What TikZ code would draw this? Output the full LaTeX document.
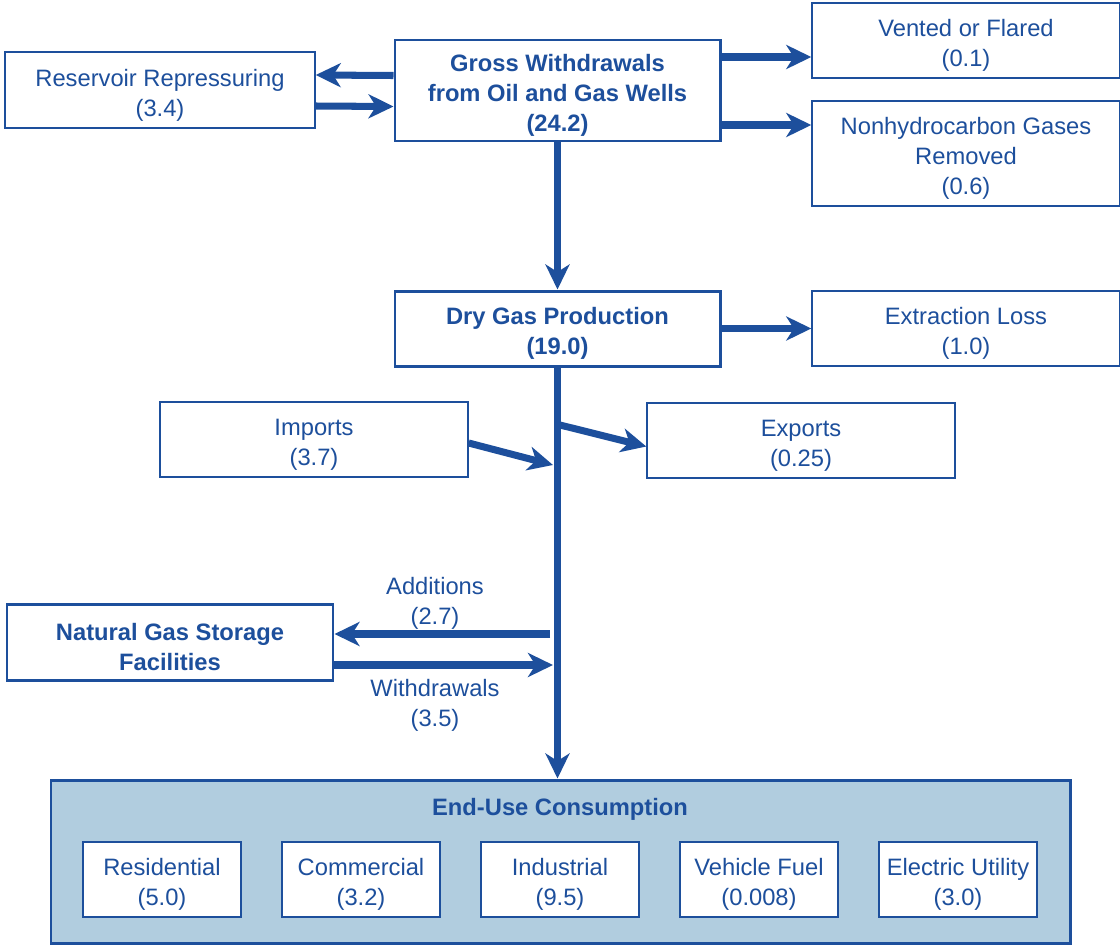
\documentclass[tikz,border=0pt]{standalone}
\usepackage{fontspec}
\setmainfont{Liberation Sans}
\usepackage{tikz}
\usetikzlibrary{arrows.meta,calc,positioning}
\definecolor{eiablue}{HTML}{1D4F9C}
\definecolor{eiafill}{HTML}{B1CDDF}
\newcommand{\boxtop}{\rule{0pt}{15.5pt}}
\tikzset{
  box/.style={draw=eiablue,line width=0.8pt,fill=white,text=eiablue,align=center,
    minimum width=6.16cm,minimum height=1.5cm,inner sep=0pt,font=\fontsize{13.5}{17}\selectfont},
  bigbox/.style={box,line width=1.7pt,font=\fontsize{13.5}{17}\selectfont\bfseries},
  usebox/.style={box,minimum width=3.16cm},
  flow/.style={draw=eiablue,line width=4pt,-{Stealth[length=5mm,width=4.8mm,inset=1.5mm]}},
  flowlabel/.style={text=eiablue,align=center,font=\fontsize{13.5}{17}\selectfont}
}

\begin{document}
\begin{tikzpicture}
% ==========================================
\useasboundingbox (0,0) rectangle (22.4,-18.9);
%
\node[box,minimum width=6.2cm,minimum height=1.52cm] (res) at (3.2,-1.8) {\boxtop Reservoir Repressuring\\(3.4)};
\node[bigbox,minimum width=6.5cm,minimum height=2.02cm] (gross) at (11.15,-1.81) {\boxtop Gross Withdrawals\\from Oil and Gas Wells\\(24.2)};
\node[box] (vent) at (19.32,-0.81) {\boxtop Vented or Flared\\(0.1)};
\node[box,minimum height=2.1cm] (nonhc) at (19.32,-3.07) {\boxtop Nonhydrocarbon Gases\\Removed\\(0.6)};
%
\node[bigbox,minimum width=6.5cm] (dry) at (11.15,-6.57) {\boxtop Dry Gas Production\\(19.0)};
\node[box] (extr) at (19.32,-6.57) {\boxtop Extraction Loss\\(1.0)};
\node[box] (imp) at (6.28,-8.79) {\boxtop Imports\\(3.7)};
\node[box] (exp) at (16.02,-8.81) {\boxtop Exports\\(0.25)};
\node[bigbox,minimum width=6.52cm,minimum height=1.52cm] (stor) at (3.4,-12.84) {\boxtop Natural Gas Storage\\Facilities};
%
% End-use block
\node[draw=eiablue,line width=1.7pt,fill=eiafill,minimum width=20.38cm,minimum height=3.26cm,inner sep=0pt] (enduse) at (11.21,-17.23) {};
\node[flowlabel,font=\fontsize{13.5}{17}\selectfont\bfseries] (endtitle) at (11.2,-16.18) {End-Use Consumption};
\node[usebox] (resid) at (3.24,-17.59) {\boxtop Residential\\(5.0)};
\node[usebox] (comm) at (7.22,-17.59) {\boxtop Commercial\\(3.2)};
\node[usebox] (indus) at (11.2,-17.59) {\boxtop Industrial\\(9.5)};
\node[usebox] (vehic) at (15.18,-17.59) {\boxtop Vehicle Fuel\\(0.008)};
\node[usebox] (elec) at (19.16,-17.59) {\boxtop Electric Utility\\(3.0)};
% =============================================
% flows
\coordinate (gv) at ([yshift=6.7mm]gross.east);
\coordinate (gn) at ([yshift=-6.9mm]gross.east);
\coordinate (jin) at (11.06,-9.3);
\coordinate (jout) at (11.2,-8.5);
\coordinate (jadd) at (11.0,-12.68);
\coordinate (jwd) at (11.06,-13.3);
%
\draw[flow] ([yshift=3mm]gross.west) -- ([yshift=3mm]res.east);
\draw[flow] ([yshift=-3.2mm]res.east) -- ([yshift=-3.2mm]gross.west);
\draw[flow] (gv) -- (gv -| vent.west);
\draw[flow] (gn) -- (gn -| nonhc.west);
\draw[flow] (gross.south) -- (dry.north);
\draw[flow] (dry.east) -- (dry.east -| extr.west);
\draw[flow] (dry.south) -- (dry.south |- enduse.north);
\draw[flow] ([yshift=-0.7mm]imp.east) -- (jin);
\draw[flow] (jout) -- ([yshift=-1.2mm]exp.west);
\draw[flow] (jadd) -- (jadd -| stor.east);
\draw[flow] (jwd -| stor.east) -- (jwd);
%
\node[flowlabel] (addlbl) at (8.7,-12.06) {Additions\\(2.7)};
\node[flowlabel] (wdlbl) at (8.7,-14.1) {Withdrawals\\(3.5)};
% =============================================
\end{tikzpicture}
\end{document}
